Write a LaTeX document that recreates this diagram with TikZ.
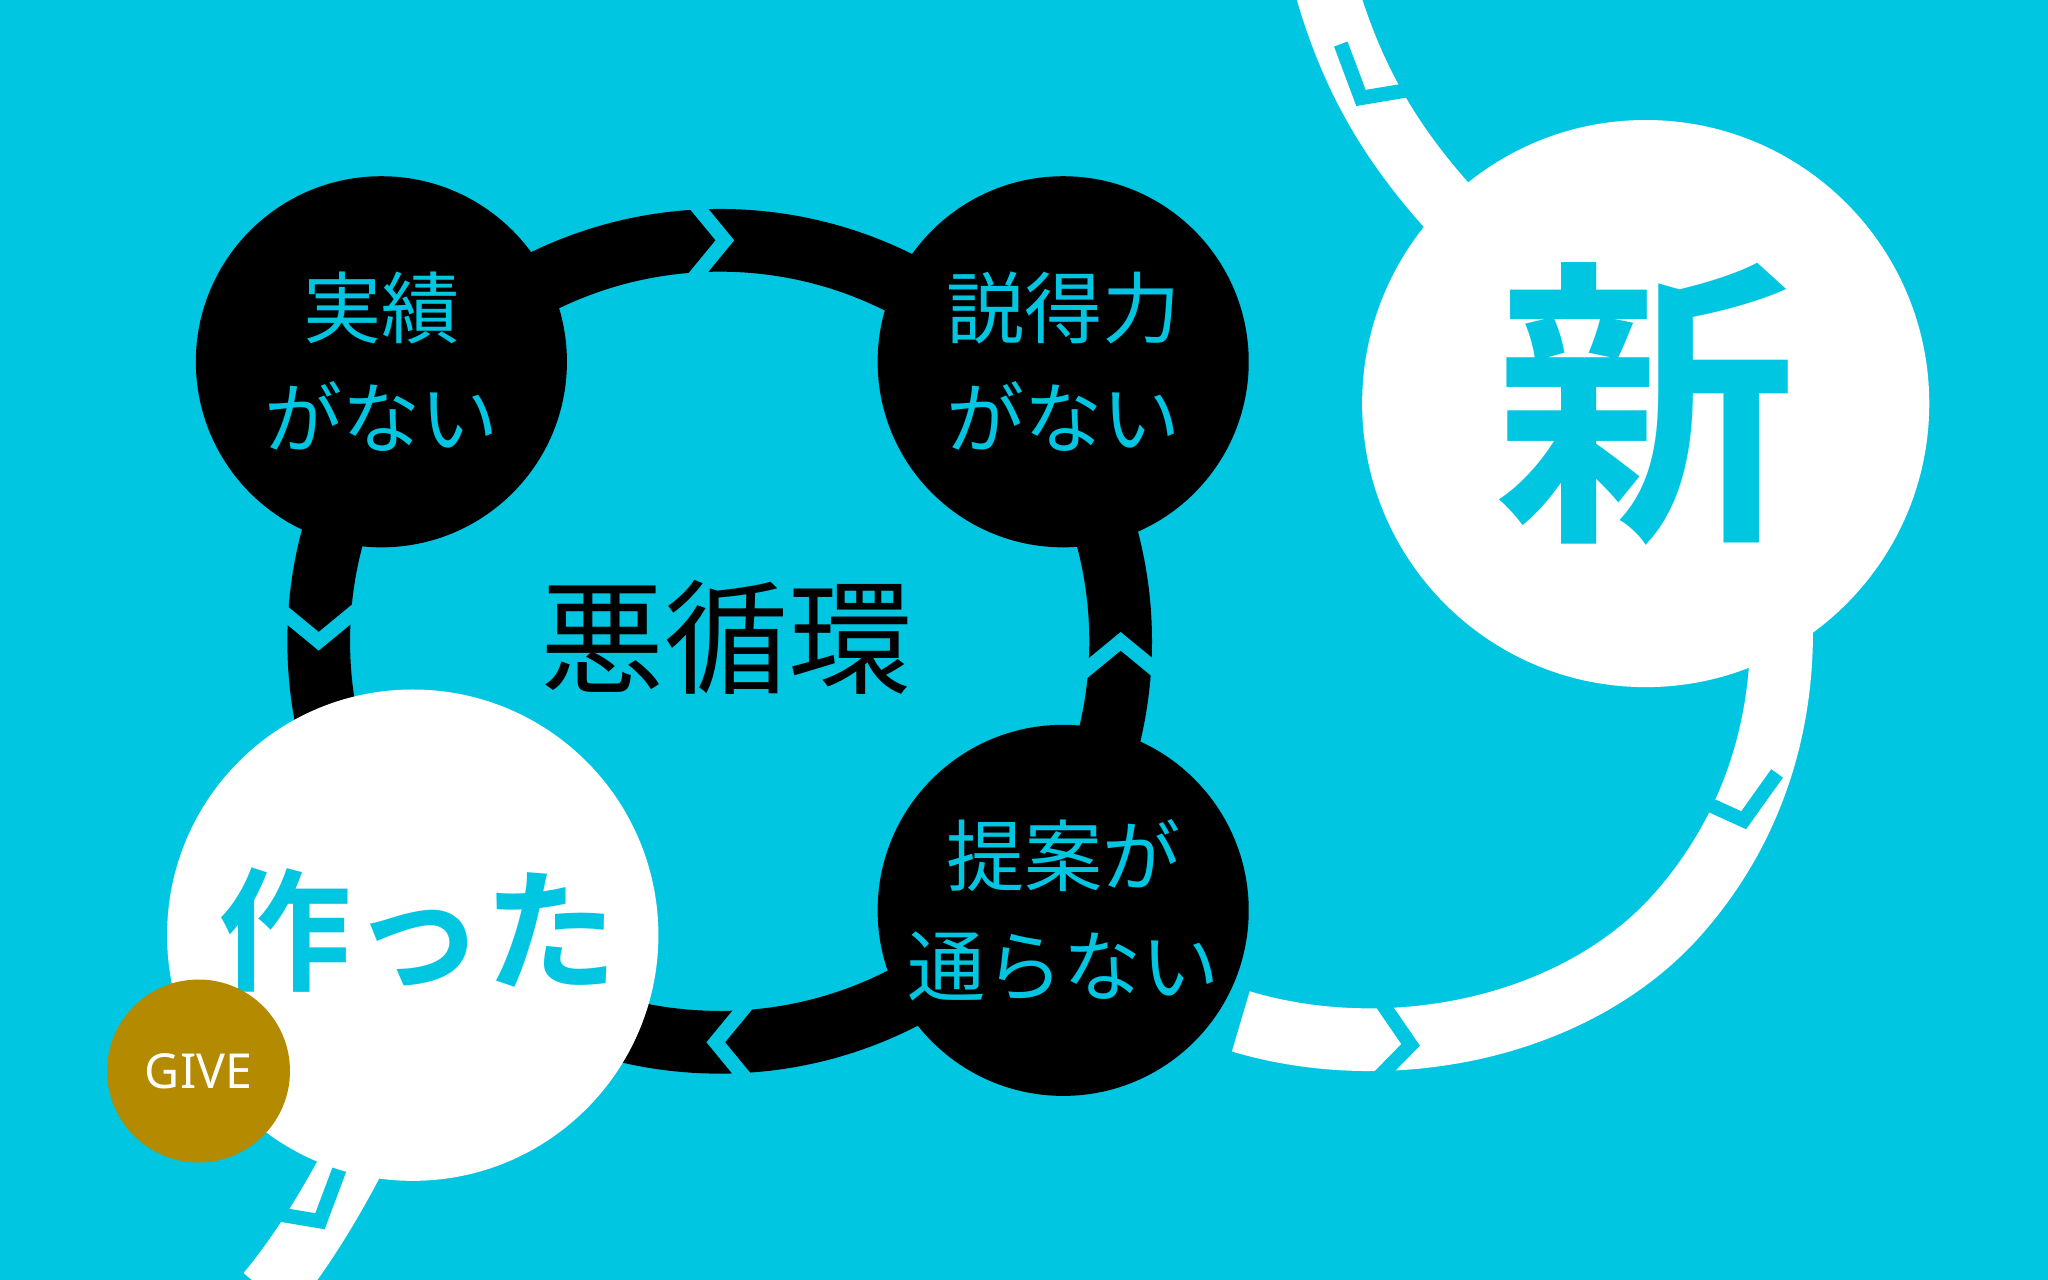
\documentclass[tikz,border=0pt]{standalone}
\usepackage{fontspec}
\setmainfont{Noto Sans}
\newfontfamily\jp{Noto Sans CJK JP}
\newfontfamily\jpb{Noto Sans CJK JP Bold}
\definecolor{bgc}{HTML}{00C6E2}
\definecolor{gold}{HTML}{B38A00}
\tikzset{
  band/.style={line width=48*0.2845pt},
  chev/.style={draw=bgc,line width=11*0.2845pt,miter limit=10},
  blk/.style={circle,fill=black,minimum size=284*0.2845pt,inner sep=0pt,text=bgc,align=center,font=\jp\fontsize{17}{24}\selectfont},
  wht/.style={circle,fill=white,inner sep=0pt},
}
\newcommand{\chevron}[3]{\draw[chev,shift={(#1,#2)},rotate=#3] (-28,34)--(0,0)--(-28,-34);}
\begin{document}
\begin{tikzpicture}[x=0.01cm,y=-0.01cm]
\fill[bgc] (0,0) rectangle (1568,980);
\useasboundingbox (0,0) rectangle (1568,980);
% white spiral bands
\draw[white,band] (1015,-10) .. controls (1035,60) and (1065,110) .. (1110,160);
\draw[white,band] (950,782) .. controls (1060,815) and (1200,790) .. (1280,705) .. controls (1340,640) and (1365,560) .. (1364,480);
\draw[white,band] (280,870) .. controls (255,920) and (230,960) .. (205,990);
% black ring
\draw[black,band] (551,491) circle[radius=307];
% chevrons on ring
\chevron{555}{184}{0}
\chevron{858}{491}{90}
\chevron{548}{798}{180}
\chevron{244}{491}{-90}
% chevrons on white bands
\chevron{1080}{800}{-5}
\chevron{1335}{628}{-75}
\chevron{1042}{75}{-120}
\chevron{245}{935}{-60}
% black circles
\node[blk] (a) at (292,277) {実績\\がない};
\node[blk] (b) at (814,277) {説得力\\がない};
\node[blk] (c) at (814,697) {提案が\\通らない};
\node[font=\jp\fontsize{27}{30}\selectfont,text=black] (d) at (556,488) {悪循環};
% white circles
\node[wht,minimum size=434*0.2845pt,text=bgc,font=\jpb\fontsize{66}{70}\selectfont] (n) at (1260,309) {新};
\node[wht,minimum size=376*0.2845pt,text=bgc,font=\jpb\fontsize{29}{32}\selectfont] (t) at (316,716) {};
\node[text=bgc,font=\jpb\fontsize{29}{32}\selectfont] (tt) at (320,712) {作った};
\node[circle,fill=gold,minimum size=140*0.2845pt,inner sep=0pt,text=white,font=\fontsize{10.5}{12}\selectfont] (g) at (152,820) {GIVE};
\end{tikzpicture}
\end{document}
